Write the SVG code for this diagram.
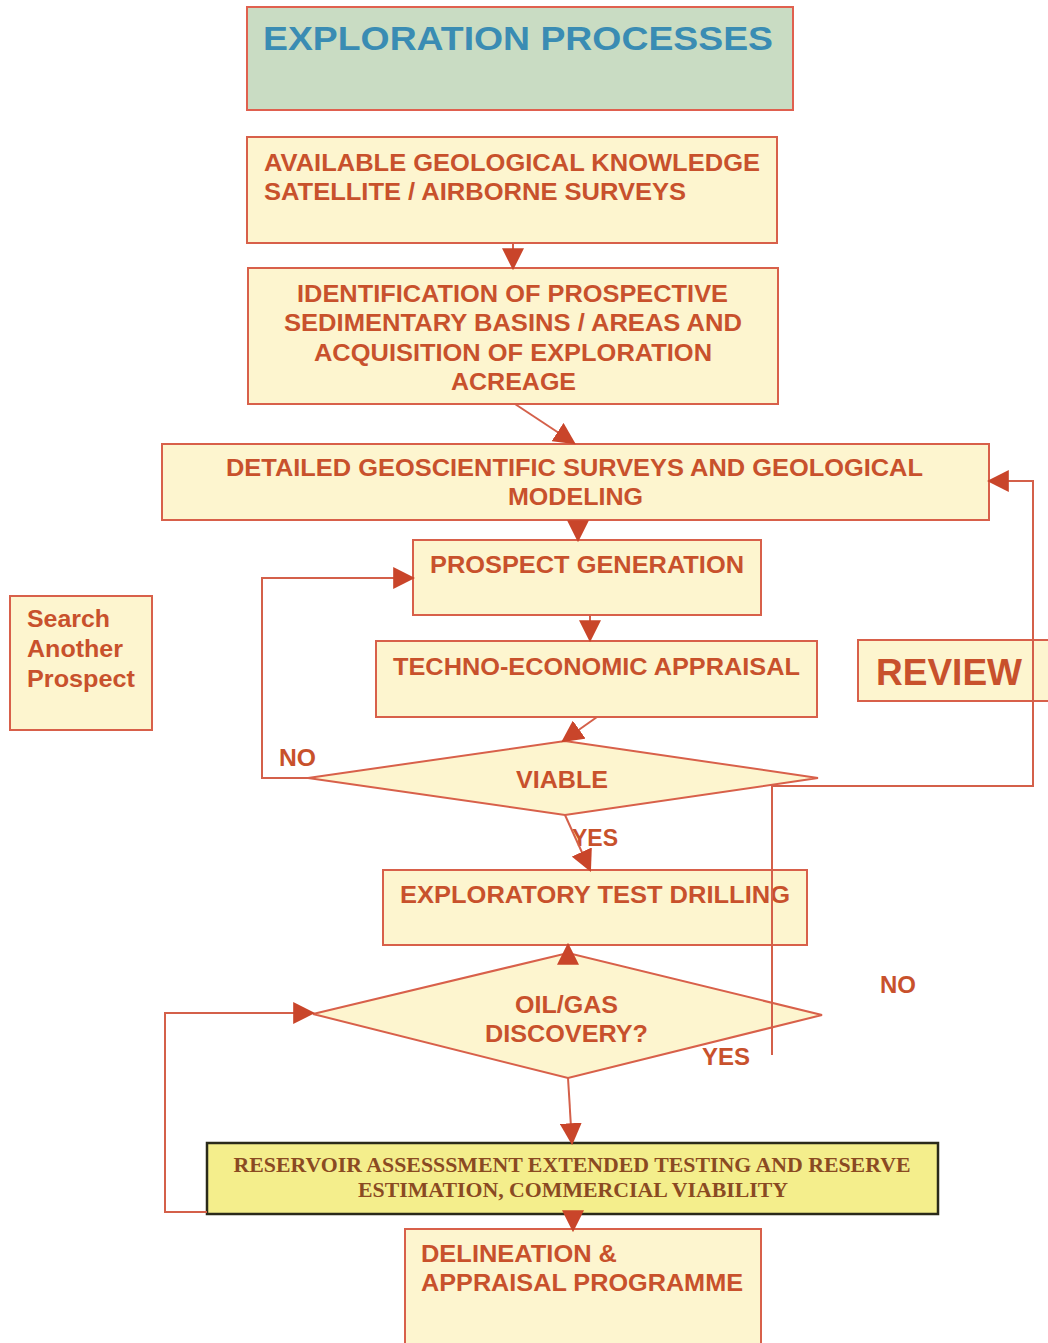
<svg xmlns="http://www.w3.org/2000/svg" width="1048" height="1343" viewBox="0 0 1048 1343">
<defs>
<style>
.box{fill:#fdf5cf;stroke:#d8604a;stroke-width:2}
.t{font-family:"Liberation Sans",Arial,sans-serif;font-weight:bold;fill:#c8512c;font-size:24px}
.c{text-anchor:middle}
.s{font-family:"Liberation Serif","Times New Roman",serif;font-weight:bold;font-size:20px;fill:#8a4a22;text-anchor:middle}
.ln{fill:none;stroke:#d4604a;stroke-width:2}
.ah{fill:#c9452a}
</style>
<marker id="arrb" viewBox="0 0 10 10" refX="9" refY="5" markerWidth="22" markerHeight="22" markerUnits="userSpaceOnUse" orient="auto">
<path d="M0,0 L10,5 L0,10 z" class="ah"/>
</marker>
</defs>
<rect width="1048" height="1343" fill="#ffffff"/>

<g id="title">
<rect x="247" y="7" width="546" height="103" fill="#c9dcc3" stroke="#e0604f" stroke-width="2"/>
<text x="263" y="50" class="t" style="fill:#3a8cb3;font-size:34px" textLength="510" lengthAdjust="spacingAndGlyphs">EXPLORATION PROCESSES</text>
</g>

<g id="available">
<rect x="247" y="137" width="530" height="106" class="box"/>
<text x="264" y="171" class="t" textLength="496" lengthAdjust="spacingAndGlyphs">AVAILABLE GEOLOGICAL KNOWLEDGE</text>
<text x="264" y="200" class="t" textLength="422" lengthAdjust="spacingAndGlyphs">SATELLITE / AIRBORNE SURVEYS</text>
</g>

<g id="identification">
<rect x="248" y="268" width="530" height="136" class="box"/>
<text x="297" y="302" class="t" textLength="431" lengthAdjust="spacingAndGlyphs">IDENTIFICATION OF PROSPECTIVE</text>
<text x="284" y="331" class="t" textLength="458" lengthAdjust="spacingAndGlyphs">SEDIMENTARY BASINS / AREAS AND</text>
<text x="314" y="361" class="t" textLength="398" lengthAdjust="spacingAndGlyphs">ACQUISITION OF EXPLORATION</text>
<text x="451" y="390" class="t" textLength="125" lengthAdjust="spacingAndGlyphs">ACREAGE</text>
</g>

<g id="detailed">
<rect x="162" y="444" width="827" height="76" class="box"/>
<text x="226" y="476" class="t" textLength="697" lengthAdjust="spacingAndGlyphs">DETAILED GEOSCIENTIFIC SURVEYS AND GEOLOGICAL</text>
<text x="508" y="505" class="t" textLength="135" lengthAdjust="spacingAndGlyphs">MODELING</text>
</g>

<g id="prospect">
<rect x="413" y="540" width="348" height="75" class="box"/>
<text x="430" y="573" class="t" textLength="314" lengthAdjust="spacingAndGlyphs">PROSPECT GENERATION</text>
</g>

<g id="techno">
<rect x="376" y="641" width="441" height="76" class="box"/>
<text x="393" y="675" class="t" textLength="407" lengthAdjust="spacingAndGlyphs">TECHNO-ECONOMIC APPRAISAL</text>
</g>

<g id="viable">
<polygon points="308,778 565,741 818,778 565,815" class="box"/>
<text x="516" y="788" class="t" textLength="92" lengthAdjust="spacingAndGlyphs">VIABLE</text>
</g>

<g id="drilling">
<rect x="383" y="870" width="424" height="75" class="box"/>
<text x="400" y="903" class="t" textLength="390" lengthAdjust="spacingAndGlyphs">EXPLORATORY TEST DRILLING</text>
</g>

<g id="discovery">
<polygon points="313,1014 568,953 822,1015 568,1078" class="box"/>
<text x="515" y="1013" class="t" textLength="103" lengthAdjust="spacingAndGlyphs">OIL/GAS</text>
<text x="485" y="1042" class="t" textLength="163" lengthAdjust="spacingAndGlyphs">DISCOVERY?</text>
</g>

<g id="reservoir">
<rect x="207" y="1143" width="731" height="71" fill="#f4ee8c" stroke="#2a2a1a" stroke-width="2.5"/>
<text x="572" y="1172" class="s" textLength="677" lengthAdjust="spacingAndGlyphs">RESERVOIR ASSESSSMENT EXTENDED TESTING AND RESERVE</text>
<text x="573" y="1197" class="s" textLength="430" lengthAdjust="spacingAndGlyphs">ESTIMATION, COMMERCIAL VIABILITY</text>
</g>

<g id="delineation">
<rect x="405" y="1229" width="356" height="120" class="box"/>
<text x="421" y="1262" class="t" textLength="196" lengthAdjust="spacingAndGlyphs">DELINEATION &amp;</text>
<text x="421" y="1291" class="t" textLength="322" lengthAdjust="spacingAndGlyphs">APPRAISAL PROGRAMME</text>
</g>

<g id="search">
<rect x="10" y="596" width="142" height="134" class="box"/>
<text x="27" y="627" class="t" textLength="83" lengthAdjust="spacingAndGlyphs">Search</text>
<text x="27" y="657" class="t" textLength="96" lengthAdjust="spacingAndGlyphs">Another</text>
<text x="27" y="687" class="t" textLength="108" lengthAdjust="spacingAndGlyphs">Prospect</text>
</g>

<g id="review">
<rect x="858" y="640" width="200" height="61" class="box"/>
<text x="876" y="685" class="t" style="font-size:36px" textLength="146" lengthAdjust="spacingAndGlyphs">REVIEW</text>
</g>

<g id="labels">
<text x="279" y="766" class="t" textLength="37" lengthAdjust="spacingAndGlyphs">NO</text>
<text x="572" y="846" class="t" textLength="46" lengthAdjust="spacingAndGlyphs">YES</text>
<text x="880" y="993" class="t" textLength="36" lengthAdjust="spacingAndGlyphs">NO</text>
<text x="702" y="1065" class="t" textLength="48" lengthAdjust="spacingAndGlyphs">YES</text>
</g>

<g id="connectors">
<line x1="513" y1="243" x2="513" y2="268" class="ln" marker-end="url(#arrb)"/>
<line x1="515" y1="404" x2="574" y2="443" class="ln" marker-end="url(#arrb)"/>
<line x1="578" y1="520" x2="578" y2="540" class="ln" marker-end="url(#arrb)"/>
<line x1="590" y1="615" x2="590" y2="640" class="ln" marker-end="url(#arrb)"/>
<line x1="597" y1="717" x2="563" y2="741" class="ln" marker-end="url(#arrb)"/>
<polyline points="308,778 262,778 262,578 413,578" class="ln" marker-end="url(#arrb)"/>
<line x1="565" y1="815" x2="590" y2="870" class="ln" marker-end="url(#arrb)"/>
<polyline points="772,1055 772,786 1033,786 1033,481 989,481" class="ln" marker-end="url(#arrb)"/>
<line x1="568" y1="960" x2="568" y2="945" class="ln" marker-end="url(#arrb)"/>
<line x1="568" y1="1078" x2="572" y2="1143" class="ln" marker-end="url(#arrb)"/>
<polyline points="207,1212 165,1212 165,1013 313,1013" class="ln" marker-end="url(#arrb)"/>
<line x1="573" y1="1214" x2="573" y2="1230" class="ln" marker-end="url(#arrb)"/>
</g>
</svg>
